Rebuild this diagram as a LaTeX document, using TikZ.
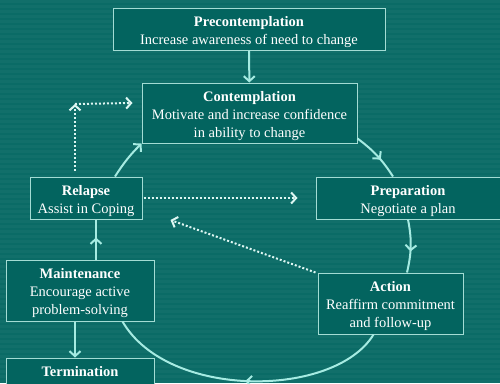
\documentclass[tikz,border=0pt]{standalone}
\usepackage{fontspec}
\setmainfont{Liberation Serif}
\usetikzlibrary{arrows.meta,decorations.markings}

\definecolor{bgteal}{HTML}{0A6B66}
\definecolor{boxteal}{HTML}{03645F}
\definecolor{edgeline}{HTML}{A3DCD4}
\definecolor{flowcyan}{HTML}{A6EBE2}
\definecolor{hintcyan}{HTML}{DDF6F2}

% bold stage title, with a little extra room above it
\newcommand{\stagetitle}[1]{\rule{0pt}{15.5pt}\textbf{#1}}

\begin{document}
\begin{tikzpicture}[x=1pt, y=-1pt,
    stage/.style={draw=edgeline, line width=1pt, fill=boxteal, text=white, align=center,
      inner sep=0pt, font=\fontsize{14.5}{18}\selectfont},
    flow/.style={flowcyan, line width=2pt, -{Straight Barb[length=5pt,width=11pt]}},
    midflow/.style={flowcyan, line width=2pt, postaction={decorate},
      decoration={markings, mark=at position #1 with {\arrow{Straight Barb[length=5pt,width=11pt]}}}},
    hint/.style={hintcyan, line width=2pt, dotted, -{Straight Barb[length=5pt,width=11pt]}}]
    \useasboundingbox (0,0) rectangle (500,383);
    \clip (0,0) rectangle (500,383);

    % Background
    \fill[bgteal] (0,0) rectangle (500,383);
    \foreach \y in {0,5,...,380}
        \fill[white, opacity=0.03] (0,\y) rectangle (500,\y+2.5);

    % Stages
    \node[stage, minimum width=272pt, minimum height=42pt] (pre) at (249,29)
        {\stagetitle{Precontemplation}\\Increase awareness of need to change};
    \node[stage, minimum width=215pt, minimum height=60pt] (con) at (249.5,113)
        {\stagetitle{Contemplation}\\Motivate and increase confidence\\in ability to change};
    \node[stage, minimum width=184pt, minimum height=42pt] (prep) at (408,198)
        {\stagetitle{Preparation}\\Negotiate a plan};
    \node[stage, minimum width=112pt, minimum height=42pt] (rel) at (86,198)
        {\stagetitle{Relapse}\\Assist in Coping};
    \node[stage, minimum width=145pt, minimum height=61pt] (act) at (390.5,303.5)
        {\stagetitle{Action}\\Reaffirm commitment\\and follow-up};
    \node[stage, minimum width=148pt, minimum height=61pt] (main) at (80,290.5)
        {\stagetitle{Maintenance}\\Encourage active\\problem-solving};
    \node[stage, minimum width=148pt, minimum height=28pt] (term) at (80,372)
        {\textbf{Termination}};

    % Cycle
    \draw[flow] (pre) -- (con);
    \draw[midflow=0.6] ([yshift=5pt]con.south east) to[bend left=10] ([xshift=-15pt]prep.north);
    \draw[midflow=0.6] (prep.south) to[bend left=12] ([xshift=16.5pt]act.north);
    \draw[midflow=0.5] ([xshift=-17pt]act.south) .. controls (335,398) and (168,400) .. ([xshift=-32pt]main.south east);
    \draw[midflow=0.55] ([xshift=16pt]main.north) -- ([xshift=10pt]rel.south);
    \draw[flow] ([xshift=29pt]rel.north) to[bend left=6] (con.south west);
    \draw[flow] ([xshift=-5pt]main.south) -- ([xshift=-5pt]term.north);

    % Dotted returns
    \coordinate (elbow) at (75,104);
    \draw[hint] ([xshift=-11pt,yshift=6pt]rel.north) -- (elbow);
    \draw[hint] (elbow) -- ([xshift=-9pt,yshift=10pt]con.west);
    \draw[hint] ([xshift=1pt]rel.east) -- ([xshift=-18pt]prep.west);
    \draw[hint] ([xshift=-2pt]act.north west) -- ([xshift=28pt,yshift=-22pt]rel.east);
\end{tikzpicture}
\end{document}
